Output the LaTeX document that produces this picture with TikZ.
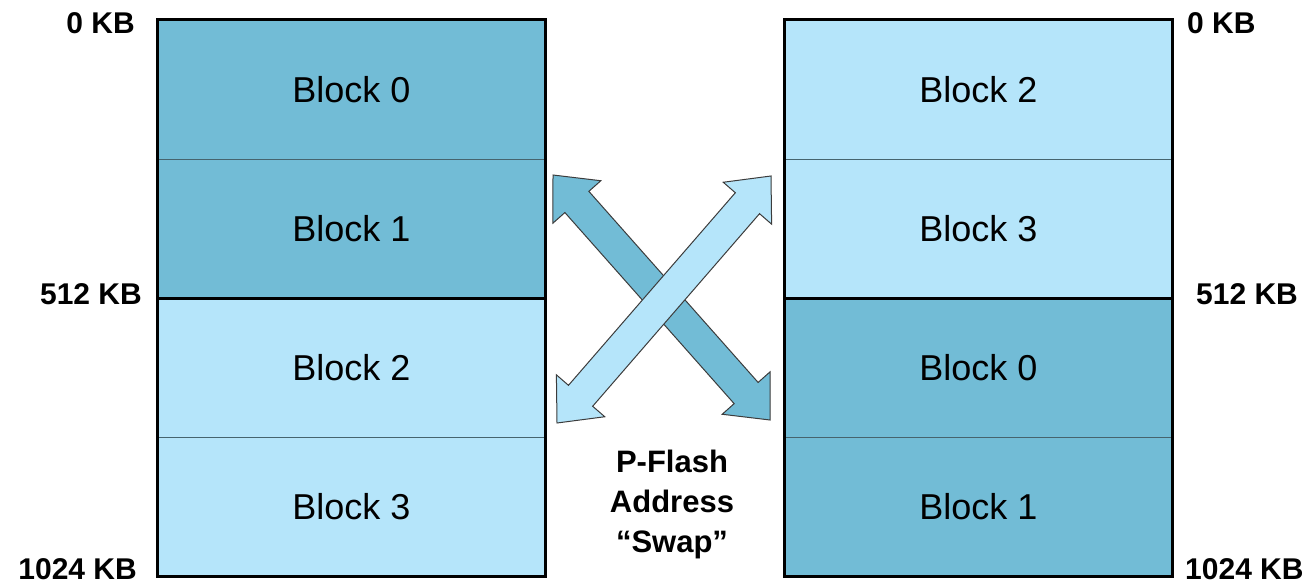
\documentclass[tikz,border=0pt]{standalone}
\usepackage{fontspec}
\setmainfont{Liberation Sans}
\usetikzlibrary{calc}
\definecolor{darkblk}{RGB}{114,188,214}
\definecolor{lightblk}{RGB}{181,229,250}
\definecolor{divider}{RGB}{70,100,110}
\definecolor{arrowline}{RGB}{60,60,60}
\tikzset{
  blk/.style={draw=divider, line width=0.8pt, minimum width=388pt, minimum height=139pt,
    inner sep=0pt, font=\fontsize{36}{40}\selectfont, anchor=north west},
  dk/.style={blk, fill=darkblk},
  lt/.style={blk, fill=lightblk},
  kb/.style={font=\bfseries\fontsize{30}{34}\selectfont, inner sep=0pt},
  frame/.style={line width=3pt, draw=black},
  swaparrow/.style={draw=arrowline, line width=1pt, line join=miter},
}
\newcommand{\swapdbl}[3]{%
  \draw[swaparrow, fill=#3]
    (#1)
    -- ($(#1)!36pt!(#2)!32pt!90:(#2)$)
    -- ($(#1)!36pt!(#2)!16pt!90:(#2)$)
    -- ($(#2)!36pt!(#1)!16pt!-90:(#1)$)
    -- ($(#2)!36pt!(#1)!32pt!-90:(#1)$)
    -- (#2)
    -- ($(#2)!36pt!(#1)!32pt!90:(#1)$)
    -- ($(#2)!36pt!(#1)!16pt!90:(#1)$)
    -- ($(#1)!36pt!(#2)!16pt!-90:(#2)$)
    -- ($(#1)!36pt!(#2)!32pt!-90:(#2)$)
    -- cycle;}
\begin{document}
\begin{tikzpicture}[x=1pt, y=-1pt]
  \useasboundingbox (0,0) rectangle (1312,585);
  % left column
  \node[dk] (L0) at (157,20) {Block 0};
  \node[dk] (L1) at (157,159) {Block 1};
  \node[lt] (L2) at (157,298) {Block 2};
  \node[lt] (L3) at (157,437) {Block 3};
  % right column
  \node[lt] (R0) at (784,20) {Block 2};
  \node[lt] (R1) at (784,159) {Block 3};
  \node[dk] (R2) at (784,298) {Block 0};
  \node[dk] (R3) at (784,437) {Block 1};
  % frames
  \draw[frame] (L0.north west) rectangle (L3.south east);
  \draw[frame] (L1.south west) -- (L1.south east);
  \draw[frame] (R0.north west) rectangle (R3.south east);
  \draw[frame] (R1.south west) -- (R1.south east);
  % address labels
  \node[kb, anchor=base east] (l0) at (135,34) {0 KB};
  \node[kb, anchor=base east] (l512) at (142,305) {512 KB};
  \node[kb, anchor=base east] (l1024) at (137,579) {1024 KB};
  \node[kb, anchor=base west] (r0) at (1187,34) {0 KB};
  \node[kb, anchor=base west] (r512) at (1196,305) {512 KB};
  \node[kb, anchor=base west] (r1024) at (1185,579) {1024 KB};
  % swap arrows
  \coordinate (dA) at (553,175);
  \coordinate (dB) at (770,420);
  \coordinate (lA) at (557,423);
  \coordinate (lB) at (771,176);
  \swapdbl{dA}{dB}{darkblk}
  \swapdbl{lA}{lB}{lightblk}
  % caption
  \node[font=\bfseries\fontsize{31}{40}\selectfont, align=center, inner sep=0pt] (cap) at (672,504)
    {P-Flash\\Address\\“Swap”};
\end{tikzpicture}
\end{document}
